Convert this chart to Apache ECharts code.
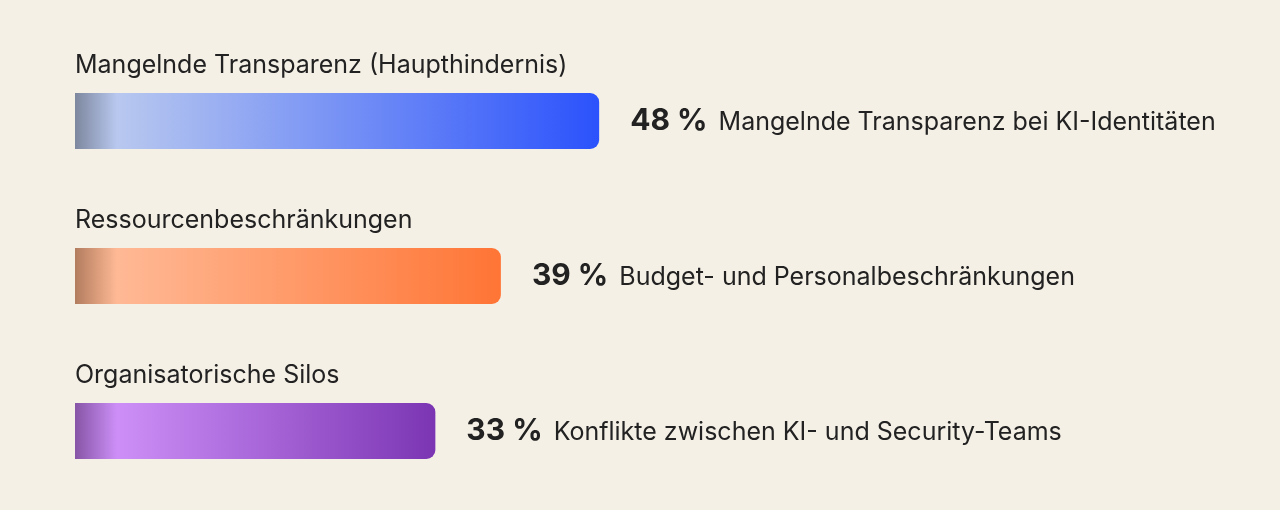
<!DOCTYPE html>
<html>
<head>
<meta charset="utf-8">
<script src="https://cdn.jsdelivr.net/npm/echarts@6/dist/echarts.min.js"></script>
<style>
  html, body { margin: 0; padding: 0; background: #f5f0e6; }
  #chart { width: 1280px; height: 510px; }
</style>
</head>
<body>
<div id="chart"></div>
<script>
// Daten
const categories = ["Mangelnde Transparenz (Haupthindernis)", "Ressourcenbeschränkungen", "Organisatorische Silos"]
const values = [48, 39, 33]
const descriptions = ["Mangelnde Transparenz bei KI-Identitäten", "Budget- und Personalbeschränkungen", "Konflikte zwischen KI- und Security-Teams"]
// Farbverläufe: [links dunkel, hell, rechts kräftig]
const gradients = [
  ["#7d879e", "#b8c8ef", "#2b52fc"],
  ["#b27d5f", "#ffb995", "#ff7535"],
  ["#8655a6", "#cd8ff7", "#7b35b3"]
]

// helle Stelle ca. 42px vom linken Rand, egal wie lang der Balken ist
function grad(c, v) {
  const off = Math.min(0.3, 42 / (v * 10.92))
  return new echarts.graphic.LinearGradient(0, 0, 1, 0, [
    { offset: 0, color: c[0] },
    { offset: off, color: c[1] },
    { offset: 1, color: c[2] }
  ])
}

const chart = echarts.init(document.getElementById("chart"))
const option = {
  backgroundColor: "#f5f0e6",
  textStyle: { fontFamily: "Inter" },
  grid: { left: 75, width: 1092, top: 43.5, height: 465 },
  xAxis: { type: "value", min: 0, max: 100, show: false },
  yAxis: { type: "category", data: categories, inverse: true, show: false },
  series: [
    {
      type: "bar",
      barWidth: 56,
      data: values.map((v, i) => ({
        value: v,
        itemStyle: { color: grad(gradients[i], v), borderRadius: [0, 9, 9, 0] }
      })),
      label: {
        show: true,
        position: "right",
        distance: 31,
        formatter: p => "{num|" + p.value + " %}{txt|" + descriptions[p.dataIndex] + "}",
        rich: {
          num: { fontFamily: "Inter", fontWeight: "bold", fontSize: 30, color: "#222" },
          txt: { fontFamily: "Inter", fontSize: 25, color: "#222", padding: [3, 0, 0, 11] }
        }
      },
      z: 2
    },
    {
      // unsichtbare Kopie nur für die Überschriften
      type: "bar",
      barWidth: 56,
      barGap: "-100%",
      data: values,
      itemStyle: { color: "transparent" },
      label: {
        show: true,
        position: [0, -15],
        formatter: p => categories[p.dataIndex],
        fontFamily: "Inter",
        fontSize: 25,
        color: "#222",
        verticalAlign: "bottom"
      },
      silent: true,
      z: 1
    }
  ]
}
chart.setOption(option)
</script>
</body>
</html>
